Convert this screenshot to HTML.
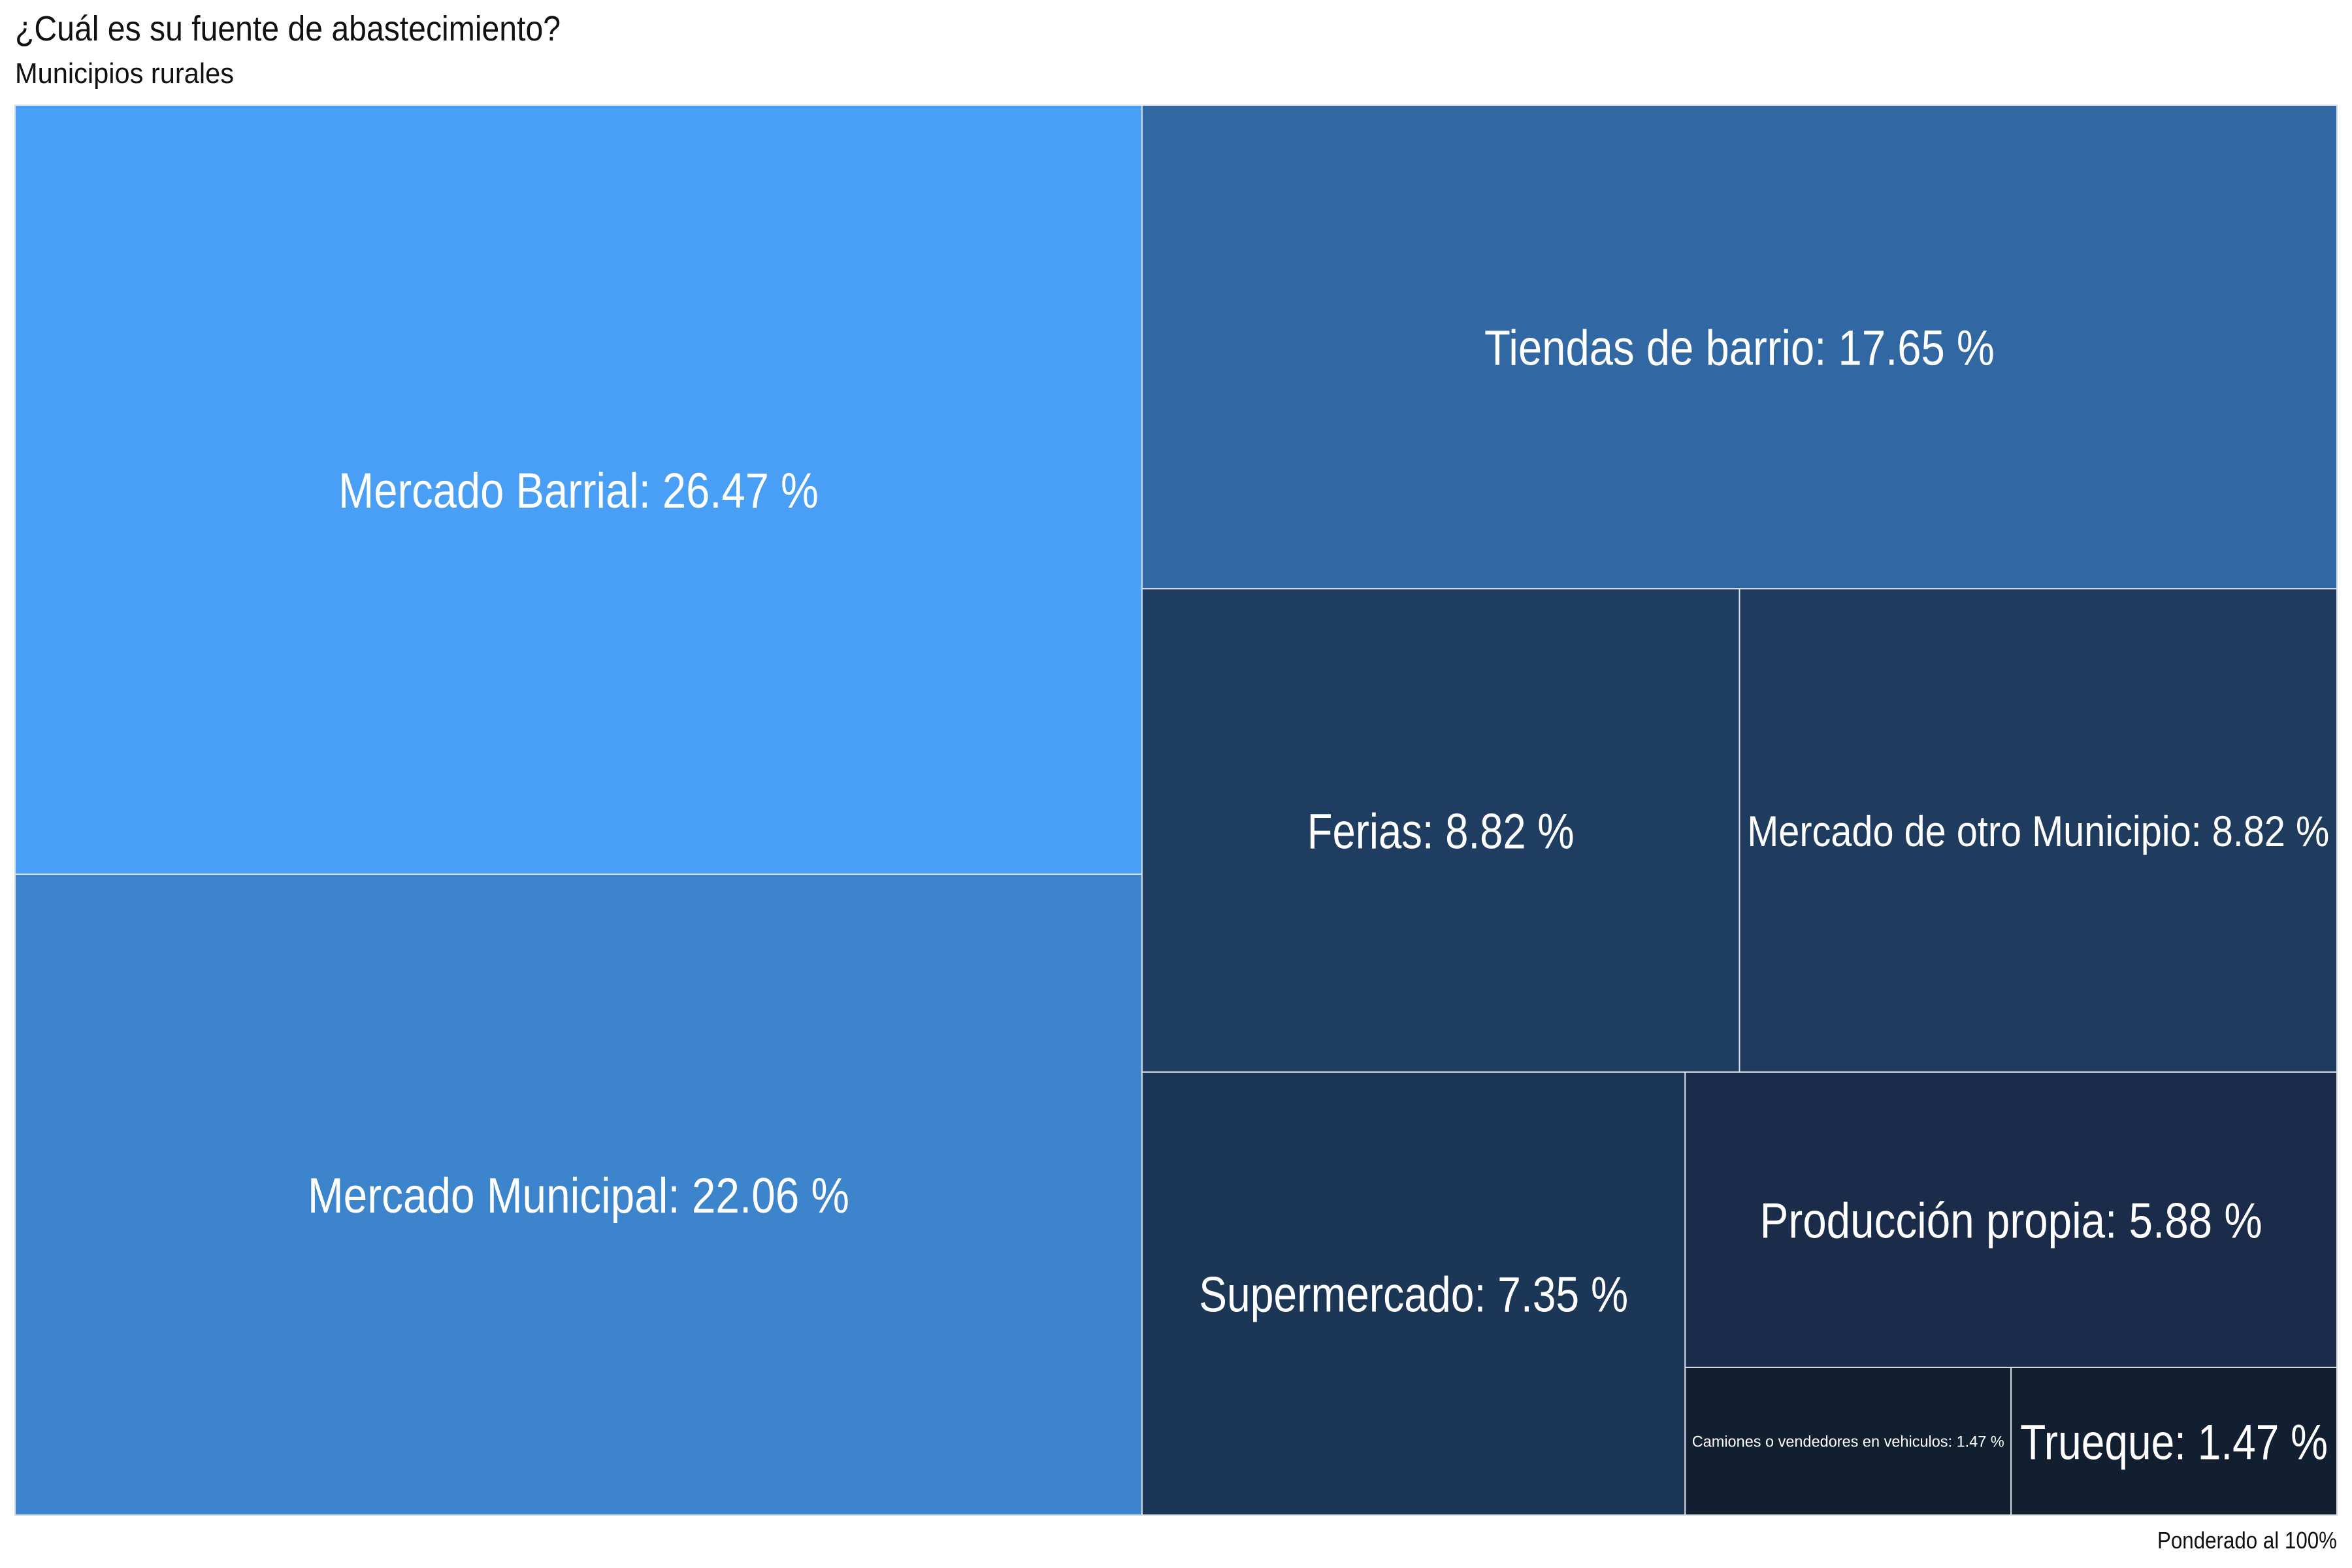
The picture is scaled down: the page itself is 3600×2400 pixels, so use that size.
<!DOCTYPE html>
<html><head><meta charset="utf-8"><style>
html,body{margin:0;padding:0;background:#fff;width:3600px;height:2400px;overflow:hidden}
svg{display:block}
text{font-family:"Liberation Sans Narrow","Liberation Sans",sans-serif}
</style></head><body>
<svg id="chart" width="3600" height="2400" viewBox="0 0 3600 2400">
<text x="23" y="62" font-size="54" fill="#111" textLength="835" lengthAdjust="spacingAndGlyphs">¿Cuál es su fuente de abastecimiento?</text>
<text x="23" y="127" font-size="44" fill="#111" textLength="335" lengthAdjust="spacingAndGlyphs">Municipios rurales</text>
<text x="3577" y="2370" font-size="36" fill="#111" text-anchor="end" textLength="275" lengthAdjust="spacingAndGlyphs">Ponderado al 100%</text>
<g id="tiles"></g>
</svg>
<script>
const categories = ["Mercado Barrial","Mercado Municipal","Tiendas de barrio","Ferias","Mercado de otro Municipio","Supermercado","Producción propia","Camiones o vendedores en vehiculos","Trueque"];
const values = [26.47,22.06,17.65,8.82,8.82,7.35,5.88,1.47,1.47];
const colors = ["#489ff5","#3c84cb","#3168a4","#1f3d61","#1f3b5e","#1c3656","#1b2c4b","#121f31","#121f31"];
const fontSizes = [76,76,76,76,66,76,76,24,76];
const labelWidths = [735,829,781,409,891,657,769,478,471];

const X0=23, Y0=161, X1=3577, Y1=2319;
const total = values.reduce((a,b)=>a+b,0);
const rects = new Array(values.length);
// structure: column [0,1] | right: row [2], row [3,4], bottom: col [5] | ([6] over [7,8])
function colSplit(idx, x, y, w, h){ // stack vertically
  const s = idx.reduce((a,i)=>a+values[i],0); let cy=y;
  idx.forEach(i=>{const hh=h*values[i]/s; rects[i]=[x,cy,w,hh]; cy+=hh;});
}
function rowSplit(idx, x, y, w, h){
  const s = idx.reduce((a,i)=>a+values[i],0); let cx=x;
  idx.forEach(i=>{const ww=w*values[i]/s; rects[i]=[cx,y,ww,h]; cx+=ww;});
}
const W=X1-X0, H=Y1-Y0;
const leftW = W*(values[0]+values[1])/total;
colSplit([0,1], X0, Y0, leftW, H);
const rx=X0+leftW, rw=W-leftW;
const rightSum = values.slice(2).reduce((a,b)=>a+b,0);
const rh = v => H*v/rightSum;
const h2 = rh(values[2]);
rects[2]=[rx,Y0,rw,h2];
const h34 = rh(values[3]+values[4]);
rowSplit([3,4], rx, Y0+h2, rw, h34);
const by=Y0+h2+h34, bh=Y1-by;
const bSum = values[5]+values[6]+values[7]+values[8];
const w5 = rw*values[5]/bSum;
rects[5]=[rx,by,w5,bh];
const sx=rx+w5, sw=rw-w5;
const h6 = bh*values[6]/(values[6]+values[7]+values[8]);
rects[6]=[sx,by,sw,h6];
rowSplit([7,8], sx, by+h6, sw, bh-h6);

const g=document.getElementById('tiles');
const NS="http://www.w3.org/2000/svg";
categories.forEach((c,i)=>{
  const [x,y,w,h]=rects[i];
  const r=document.createElementNS(NS,'rect');
  
  
  r.setAttribute('x',x);r.setAttribute('y',y);r.setAttribute('width',w);r.setAttribute('height',h);
  r.setAttribute('fill',colors[i]);r.setAttribute('stroke','#d8dde4');r.setAttribute('stroke-width','2');
  g.appendChild(r);
});
categories.forEach((c,i)=>{
  const [x,y,w,h]=rects[i];
  const t=document.createElementNS(NS,'text');
  
  
  t.setAttribute('x',x+w/2);t.setAttribute('y',y+h/2+fontSizes[i]*0.36);
  t.setAttribute('text-anchor','middle');t.setAttribute('fill','#fff');
  t.setAttribute('font-size',fontSizes[i]);
  t.setAttribute('textLength',labelWidths[i]);t.setAttribute('lengthAdjust','spacingAndGlyphs');
  t.textContent=c+': '+values[i].toFixed(2)+' %';
  g.appendChild(t);
});
</script>
</body></html>
